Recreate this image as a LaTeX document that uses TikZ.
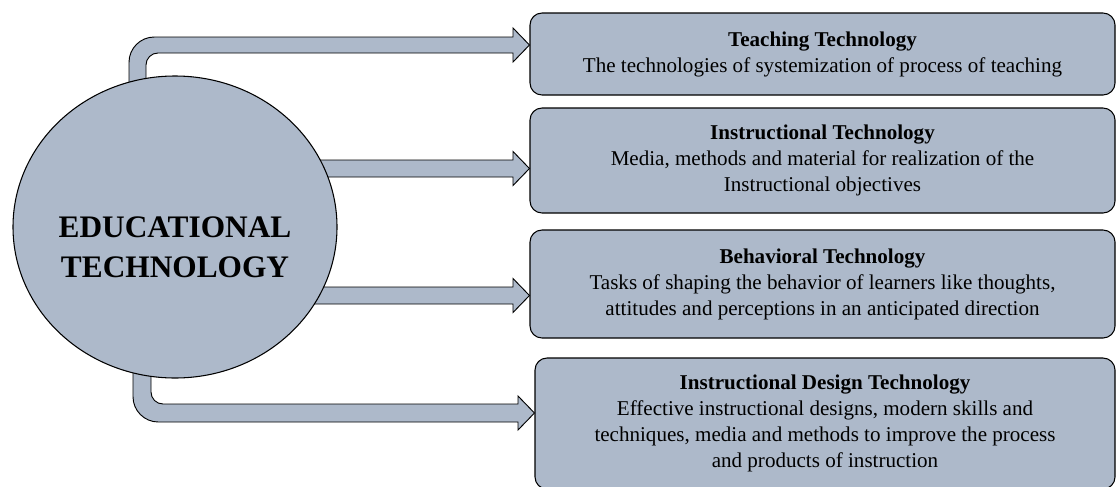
\documentclass[tikz,border=0pt]{standalone}
\usepackage{fontspec}
\setmainfont{Liberation Serif}
\usepackage{tikz}
\usetikzlibrary{shapes.geometric}

\definecolor{slateblue}{RGB}{173,185,202}

\begin{document}
\begin{tikzpicture}[x=0.75pt,y=0.75pt,yscale=-1,
	hub/.style={ellipse, draw, line width=0.8pt, fill=slateblue, minimum width=243pt, minimum height=226.5pt, inner sep=0pt},
	hubtext/.style={align=center, inner sep=0pt, font=\fontsize{23.5}{30}\selectfont\bfseries},
	techbox/.style={rectangle, rounded corners=9pt, draw, line width=0.8pt, fill=slateblue, minimum width=438.75pt, align=center, inner sep=0pt, font=\fontsize{15.8}{19.5}\selectfont},
	blockarrow/.style={draw, line width=0.7pt, fill=slateblue, line join=miter}]
	\useasboundingbox (0,0) rectangle (1117,486);
	
	% Boxes on the right
	\node[techbox, minimum height=61.5pt] (teach) at (822.5,54) {\textbf{Teaching Technology}\\The technologies of systemization of process of teaching};
	\node[techbox, minimum height=78.75pt] (instr) at (822.5,160.5) {\textbf{Instructional Technology}\\Media, methods and material for realization of the\\Instructional objectives};
	\node[techbox, minimum height=81pt] (behav) at (822.5,284) {\textbf{Behavioral Technology}\\Tasks of shaping the behavior of learners like thoughts,\\attitudes and perceptions in an anticipated direction};
	\node[techbox, minimum height=98.25pt, minimum width=435pt] (design) at (825,423.5) {\textbf{Instructional Design Technology}\\Effective instructional designs, modern skills and\\techniques, media and methods to improve the process\\and products of instruction};
	
	% arrow tips sit on the west side of each box
	\coordinate (tip1) at (teach.west |- 0,45);
	\coordinate (tip2) at (instr.west |- 0,168.5);
	\coordinate (tip3) at (behav.west |- 0,295.5);
	\coordinate (tip4) at (design.west |- 0,413);
	
	%Bent Arrow up and right
	\draw[blockarrow] (129,120) [rounded corners=19pt] -- (129,37) -- (300,37) [sharp corners] -- (513,37) -- (513,28) -- (tip1) -- (513,62) -- (513,53) -- (300,53) [rounded corners=9pt] -- (146,53) -- (146,120) [sharp corners] -- cycle;
	%Straight Arrows
	\draw[blockarrow] (290,160) -- (513,160) -- (513,151.5) -- (tip2) -- (513,185.5) -- (513,177) -- (290,177) -- cycle;
	\draw[blockarrow] (290,287) -- (513,287) -- (513,278.5) -- (tip3) -- (513,312.5) -- (513,304) -- (290,304) -- cycle;
	%Bent Arrow down and right
	\draw[blockarrow] (133,330) [rounded corners=19pt] -- (133,422) -- (300,422) [sharp corners] -- (518,422) -- (518,430) -- (tip4) -- (518,396) -- (518,404) -- (300,404) [rounded corners=9pt] -- (151,404) -- (151,330) [sharp corners] -- cycle;
	
	%Shape: Ellipse
	\node[hub] (edu) at (175,227) {};
	% Text Node
	\node[hubtext] (edulabel) at ([yshift=15pt]edu.center) {EDUCATIONAL\\TECHNOLOGY};
	
\end{tikzpicture}
\end{document}
